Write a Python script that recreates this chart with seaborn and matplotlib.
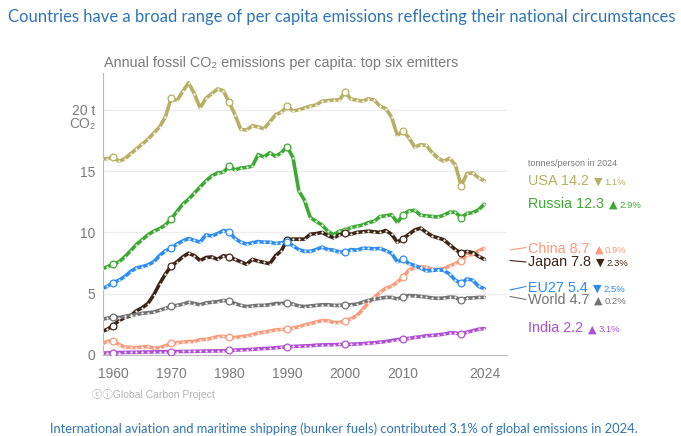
import pandas as pd
import seaborn as sns
import matplotlib.pyplot as plt

# --- data (tonnes CO2 per person) ---
years = list(range(1958, 2025))

usa = [16.0, 16.0, 16.15, 15.8, 16.0, 16.4, 16.8, 17.2, 17.6, 18.1, 18.6, 19.4,
       20.95, 20.75, 21.5, 22.2, 21.3, 20.15, 20.95, 21.3, 21.7, 21.55,
       20.6, 19.6, 18.4, 18.35, 18.7, 18.6, 18.45, 19.0, 19.6, 19.8,
       20.3, 19.9, 20.0, 20.15, 20.3, 20.4, 20.7, 20.75, 20.8, 20.8,
       21.45, 20.85, 20.8, 20.7, 20.9, 20.8, 20.3, 20.1, 19.4, 17.9,
       18.3, 17.7, 16.95, 17.15, 17.1, 16.5, 16.05, 15.8, 16.05, 15.5,
       13.8, 14.8, 14.85, 14.45, 14.2]
russia = [7.0, 7.2, 7.4, 7.6, 8.0, 8.5, 9.0, 9.4, 9.8, 10.1, 10.3, 10.6,
          11.1, 11.7, 12.3, 12.7, 13.2, 13.7, 14.2, 14.6, 14.85, 14.9,
          15.4, 15.1, 15.25, 15.3, 15.4, 16.35, 16.15, 16.5, 16.2, 16.5,
          17.0, 16.1, 13.4, 12.6, 11.2, 10.9, 10.6, 10.1, 9.8, 10.1,
          10.15, 10.4, 10.5, 10.6, 10.8, 10.9, 11.3, 11.35, 11.45, 10.8,
          11.45, 11.75, 11.8, 11.4, 11.35, 11.3, 11.25, 11.4, 11.65, 11.65,
          11.2, 11.55, 11.6, 11.85, 12.3]
china = [0.9, 1.1, 1.18, 0.85, 0.65, 0.62, 0.6, 0.65, 0.7, 0.55, 0.6, 0.75,
         0.95, 1.0, 1.05, 1.1, 1.1, 1.25, 1.28, 1.37, 1.5, 1.52,
         1.45, 1.42, 1.5, 1.55, 1.65, 1.8, 1.85, 1.95, 2.05, 2.08,
         2.1, 2.2, 2.3, 2.45, 2.55, 2.7, 2.8, 2.8, 2.65, 2.65,
         2.8, 2.95, 3.2, 3.7, 4.25, 4.7, 5.1, 5.45, 5.6, 5.95,
         6.35, 6.95, 7.1, 7.2, 7.15, 7.0, 6.95, 7.05, 7.25, 7.45,
         7.7, 8.15, 8.2, 8.5, 8.7]
japan = [1.9, 2.1, 2.4, 2.8, 3.05, 3.2, 3.6, 3.85, 4.2, 4.9, 5.8, 6.6,
         7.25, 7.6, 8.0, 8.3, 8.1, 7.7, 7.95, 8.0, 7.8, 8.1,
         8.0, 7.8, 7.6, 7.4, 7.8, 7.65, 7.55, 7.45, 8.1, 8.5,
         9.4, 9.45, 9.45, 9.45, 9.85, 9.9, 10.0, 9.75, 9.55, 9.8,
         9.95, 9.85, 10.0, 10.05, 10.1, 10.05, 10.0, 10.15, 9.85, 9.2,
         9.5, 9.85, 10.2, 10.35, 10.0, 9.7, 9.55, 9.4, 9.0, 8.6,
         8.3, 8.45, 8.35, 8.05, 7.8]
eu27 = [5.4, 5.6, 5.9, 6.1, 6.4, 6.8, 7.1, 7.2, 7.35, 7.6, 8.1, 8.5,
        8.7, 9.05, 9.3, 9.5, 9.35, 9.2, 9.8, 9.7, 9.9, 10.15,
        10.05, 9.5, 9.2, 9.05, 9.15, 9.25, 9.2, 9.2, 9.1, 9.15,
        9.25, 8.9, 8.6, 8.45, 8.45, 8.6, 8.8, 8.6, 8.55, 8.4,
        8.4, 8.6, 8.55, 8.7, 8.7, 8.65, 8.7, 8.5, 8.3, 7.6,
        7.8, 7.45, 7.3, 7.1, 6.85, 6.9, 6.95, 6.9, 6.6, 6.1,
        5.85, 6.2, 6.1, 5.6, 5.4]
world = [2.9, 3.0, 3.1, 3.05, 3.15, 3.25, 3.3, 3.4, 3.45, 3.5, 3.65, 3.8,
         3.97, 4.05, 4.15, 4.3, 4.2, 4.1, 4.25, 4.3, 4.35, 4.45,
         4.4, 4.2, 4.05, 3.95, 4.0, 4.05, 4.05, 4.1, 4.2, 4.2,
         4.25, 4.15, 4.0, 3.95, 4.0, 4.05, 4.1, 4.1, 4.05, 4.05,
         4.1, 4.1, 4.15, 4.3, 4.45, 4.55, 4.62, 4.7, 4.7, 4.57,
         4.75, 4.85, 4.82, 4.78, 4.72, 4.65, 4.62, 4.65, 4.72, 4.7,
         4.45, 4.65, 4.65, 4.7, 4.7]
india = [0.16, 0.17, 0.19, 0.2, 0.21, 0.22, 0.22, 0.24, 0.24, 0.25, 0.26, 0.27,
         0.27, 0.28, 0.29, 0.29, 0.3, 0.31, 0.32, 0.33, 0.33, 0.35,
         0.37, 0.4, 0.42, 0.44, 0.46, 0.5, 0.52, 0.55, 0.59, 0.63,
         0.66, 0.7, 0.72, 0.74, 0.76, 0.8, 0.82, 0.84, 0.84, 0.86,
         0.87, 0.88, 0.9, 0.92, 0.97, 1.0, 1.05, 1.1, 1.18, 1.26,
         1.3, 1.35, 1.44, 1.48, 1.57, 1.6, 1.64, 1.7, 1.8, 1.8,
         1.68, 1.87, 1.98, 2.1, 2.16]

countries = ["USA", "Russia", "China", "Japan", "EU27", "World", "India"]
series = [usa, russia, china, japan, eu27, world, india]
colors = {"USA": "#b8ae64", "Russia": "#3caa32", "China": "#fa9a7a",
          "Japan": "#3e2516", "EU27": "#2b8cf2", "World": "#737373",
          "India": "#b04fd2"}

# right-hand labels
label_vals = ["14.2", "12.3", "8.7", "7.8", "5.4", "4.7", "2.2"]
label_arrows = ["▼", "▲", "▲", "▼", "▼", "▲", "▲"]
label_pcts = ["1.1%", "2.9%", "0.9%", "2.3%", "2.5%", "0.2%", "3.1%"]
label_baseline_px = [185, 208, 252.5, 266, 291.5, 304, 332.5]

decades = [1960, 1970, 1980, 1990, 2000, 2010, 2020]
xtick_years = [1960, 1970, 1980, 1990, 2000, 2010, 2024]

rows = []
for name, vals in zip(countries, series):
    for yr, v in zip(years, vals):
        rows.append({"year": yr, "value": v, "country": name})
df = pd.DataFrame(rows)

sns.set_theme(style="white")
FONT = ["Liberation Sans", "DejaVu Sans"]
plt.rcParams["font.family"] = FONT

W, H = 681, 436
fig = plt.figure(figsize=(W / 100, H / 100), dpi=100)
fig.patch.set_facecolor("white")


def fx(px):
    return px / W


def fy(py):
    return 1 - py / H


ax = fig.add_axes([fx(103.3), fy(355), fx(507) - fx(103.3), fy(73) - fy(355)])

GRAY = "#7b7b7b"
for g in [5, 10, 15, 20]:
    ax.axhline(g, color="#ececec", lw=0.9, zorder=0)

sns.lineplot(data=df, x="year", y="value", hue="country", palette=colors,
             hue_order=countries, linewidth=2.6, legend=False, ax=ax, zorder=2)
sns.scatterplot(data=df, x="year", y="value", color="white", s=2.5,
                linewidth=0, ax=ax, zorder=3)
for name in countries:
    sub = df[(df.country == name) & (df.year.isin(decades))]
    sns.scatterplot(data=sub, x="year", y="value", color="white",
                    edgecolor=colors[name], s=24, linewidth=0.9, ax=ax,
                    zorder=4)

ax.set_xlim(1958.3, 2027.9)
ax.set_ylim(0, 23)
ax.set_xticks(xtick_years)
ax.set_xticklabels([str(y) for y in xtick_years])
ax.set_yticks([0, 5, 10, 15, 20])
ax.set_yticklabels(["0", "5", "10", "15", "20 t"])
ax.tick_params(axis="both", colors="#bbbbbb", labelcolor=GRAY, labelsize=10,
               length=2.5, width=0.8, direction="out")
ax.tick_params(axis="x", pad=6)
ax.tick_params(axis="y", pad=3)
ax.set_xlabel("")
ax.set_ylabel("")
for s in ["top", "right"]:
    ax.spines[s].set_visible(False)
for s in ["left", "bottom"]:
    ax.spines[s].set_color("#bbbbbb")
    ax.spines[s].set_linewidth(0.8)

fig.text(fx(95), fy(124), "CO₂", ha="right", va="center", fontsize=10,
         color=GRAY)

# titles and notes
title = fig.text(fx(8), fy(17), "Countries have a broad range of per capita emissions "
                 "reflecting their national circumstances", ha="left", va="center",
                 fontsize=13, color="#2e75b6", family=["Lato", "DejaVu Sans"])
footer = fig.text(fx(344), fy(429), "International aviation and maritime shipping "
                  "(bunker fuels) contributed 3.1% of global emissions in 2024.",
                  ha="center", va="center", fontsize=10, color="#2e75b6",
                  family=["Lato", "DejaVu Sans"])
fig.text(fx(104), fy(67), "Annual fossil CO₂ emissions per capita: top six emitters",
         ha="left", va="baseline", fontsize=10.4, color=GRAY)
fig.text(fx(92), fy(394), "ⓒⓘGlobal Carbon Project", ha="left", va="center",
         fontsize=7.5, color="#b3b3b3",
         family=["Liberation Sans", "Noto Sans CJK JP", "DejaVu Sans"])

fig.text(fx(528), fy(166), "tonnes/person in 2024", ha="left", va="baseline",
         fontsize=6.5, color=GRAY)

fig.canvas.draw()
renderer = fig.canvas.get_renderer()

# fit the slide title and footer to the widths they have in the picture
for txt, target in [(title, 668), (footer, 592)]:
    w = txt.get_window_extent(renderer).width
    txt.set_fontsize(txt.get_fontsize() * target / w)

for name, val, arr, pct, by in zip(countries, label_vals, label_arrows,
                                   label_pcts, label_baseline_px):
    c = colors[name]
    t1 = fig.text(fx(528), fy(by), f"{name} {val}", ha="left", va="baseline",
                  fontsize=10.4, color=c)
    bb = t1.get_window_extent(renderer)
    t2 = fig.text(bb.x1 / W + fx(5), fy(by), arr, ha="left", va="baseline",
                  fontsize=8, color=c, family=["DejaVu Sans"])
    bb2 = t2.get_window_extent(renderer)
    fig.text(bb2.x1 / W + fx(2), fy(by), pct, ha="left", va="baseline",
             fontsize=6.8, color=c)

# connector lines for the crowded labels
connectors = {"China": (250, 247.5), "Japan": (260.5, 262),
              "EU27": (290, 286.5), "World": (296.5, 299.5)}
for name, (y0, y1) in connectors.items():
    fig.add_artist(plt.Line2D([fx(510), fx(526)], [fy(y0), fy(y1)],
                              color=colors[name], lw=0.8))

fig.savefig("out.png", dpi=100)
